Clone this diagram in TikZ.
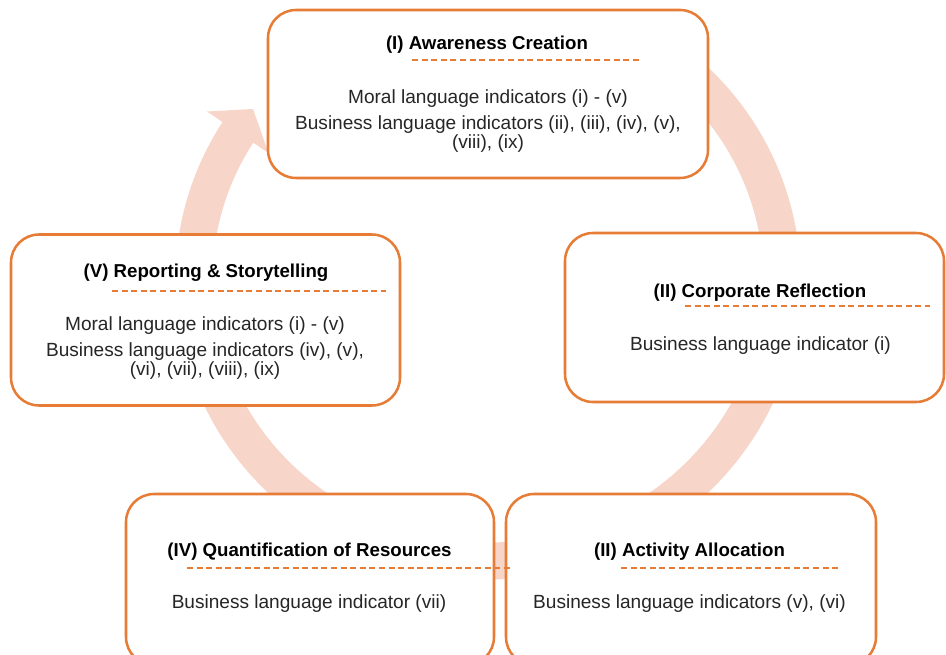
\documentclass[tikz,border=0pt]{standalone}
\usepackage{fontspec}
\setmainfont{Liberation Sans}
\usepackage{tikz}
\usetikzlibrary{arrows.meta,positioning}
\definecolor{stageOrange}{HTML}{E67C36}
\definecolor{ringPink}{HTML}{F7D5C9}
\definecolor{bodyGray}{HTML}{262626}

\begin{document}
\begin{tikzpicture}[
    x=0.75pt, y=-0.75pt,
    stage/.style={draw=stageOrange, line width=1.9pt, fill=white, rounded corners=21pt, inner sep=0pt},
    heading/.style={font=\bfseries\fontsize{14}{16}\selectfont, anchor=base, inner sep=0pt},
    body/.style={font=\fontsize{14.3}{14.6}\selectfont, text=bodyGray, align=center, anchor=north, inner sep=0pt},
    underline/.style={draw=stageOrange, line width=1pt, dash pattern=on 4.5pt off 2.7pt},
    ring/.style={draw=ringPink, line width=27.75pt}
]
    \useasboundingbox (0,0) rectangle (946,655);
    \clip (0,0) rectangle (946,655);

    % cycle band behind the stages
    \coordinate (hub) at (488,280);
    \draw[ring] (hub) ++(-55:294 and 281) arc[start angle=-55, end angle=212, x radius=294, y radius=281];
    \fill[ringPink] (207,111.5) -- (253,109) -- (268.5,153) -- cycle;

    % stages
    \node[stage, minimum width=330pt, minimum height=126pt] (aware) at (488,94) {};
    \node[stage, minimum width=284.25pt, minimum height=126.75pt] (reflect) at (754.5,317.5) {};
    \node[stage, minimum width=291.75pt, minimum height=128.25pt] (report) at (205.5,320) {};
    \node[stage, minimum width=276pt, minimum height=128.25pt] (quant) at (310,579.5) {};
    \node[stage, minimum width=277.5pt, minimum height=128.25pt] (alloc) at (691,579.5) {};

    % (I)
    \node[heading] (aware-t) at (487,50) {(I) Awareness Creation};
    \draw[underline] (412,60) -- (641,60);
    \node[body] (aware-b) at (488,89.3) {Moral language indicators (i) - (v)\\[4.8pt]
        Business language indicators (ii), (iii), (iv), (v),\\(viii), (ix)};

    % (II) reflection
    \node[heading] (reflect-t) at (760,297.5) {(II) Corporate Reflection};
    \draw[underline] (685,306) -- (930,306);
    \node[body] (reflect-b) at (760.5,336.3) {Business language indicator (i)};

    % (II) allocation
    \node[heading] (alloc-t) at (689.5,556.5) {(II) Activity Allocation};
    \draw[underline] (621,568) -- (838,568);
    \node[body] (alloc-b) at (689.5,594.3) {Business language indicators (v), (vi)};

    % (IV)
    \node[heading] (quant-t) at (309.5,556.5) {(IV) Quantification of Resources};
    \draw[underline] (187,568) -- (510,568);
    \node[body] (quant-b) at (309,594.3) {Business language indicator (vii)};

    % (V)
    \node[heading] (report-t) at (206,278) {(V) Reporting \& Storytelling};
    \draw[underline] (112,291) -- (386,291);
    \node[body] (report-b) at (205,316.3) {Moral language indicators (i) - (v)\\[4.8pt]
        Business language indicators (iv), (v),\\(vi), (vii), (viii), (ix)};
\end{tikzpicture}
\end{document}
